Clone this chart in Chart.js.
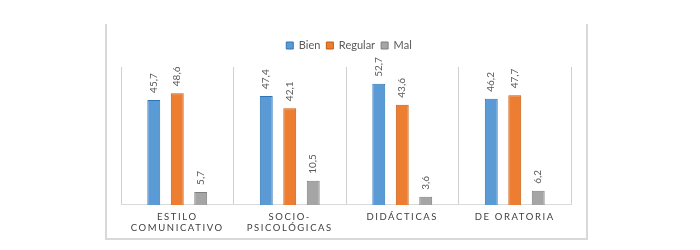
<!DOCTYPE html>
<html>
<head>
<meta charset="utf-8">
<script src="https://cdn.jsdelivr.net/npm/chart.js@4"></script>
<style>
  html, body { margin: 0; background: #fff; }
  #frame {
    position: absolute; left: 105px; top: 24px; width: 479px; height: 214px;
    border: solid #d9d9d9; border-width: 0 2px 2px 2px;
  }
  canvas { display: block; }
</style>
</head>
<body>
<div id="frame"><canvas id="chart" width="479" height="216"></canvas></div>
<script>
const categories = [["ESTILO", "COMUNICATIVO"], ["SOCIO-", "PSICOLÓGICAS"], ["DIDÁCTICAS"], ["DE ORATORIA"]];
const bien = [45.7, 47.4, 52.7, 46.2];
const regular = [48.6, 42.1, 43.6, 47.7];
const mal = [5.7, 10.5, 3.6, 6.2];

const labelFont = "Lato";

// rotated value labels, comma decimals like the original
const valueLabels = {
  id: "valueLabels",
  afterDatasetsDraw(chart) {
    const ctx = chart.ctx;
    chart.data.datasets.forEach((ds, i) => {
      chart.getDatasetMeta(i).data.forEach((bar, j) => {
        ctx.save();
        ctx.translate(bar.x, bar.y - 7);
        ctx.rotate(-Math.PI / 2);
        ctx.font = "10px " + labelFont;
        ctx.fillStyle = "#595959";
        ctx.textAlign = "left";
        ctx.textBaseline = "middle";
        ctx.fillText(ds.data[j].toFixed(1).replace(".", ","), 0, 0);
        ctx.restore();
      });
    });
    // x tick labels are on a later layer, so this only spaces them
    ctx.letterSpacing = "1.6px";
  },
  afterDraw(chart) {
    chart.ctx.letterSpacing = "0px";
  },
};

// more room under the legend, and legend sits a bit right of centre
const legendTweak = {
  id: "legendTweak",
  beforeInit(chart) {
    const fit = chart.legend.fit;
    chart.legend.fit = function () {
      fit.call(this);
      this.height += 6;
    };
  },
  afterLayout(chart) {
    chart.legend.left += 3;
    chart.legend.right += 3;
  },
};

new Chart(document.getElementById("chart"), {
  type: "bar",
  data: {
    labels: categories,
    datasets: [
      { label: "Bien", data: bien, backgroundColor: "#5B9BD5", borderColor: "#2E75B6", borderWidth: 1 },
      { label: "Regular", data: regular, backgroundColor: "#ED7D31", borderColor: "#C55A11", borderWidth: 1 },
      { label: "Mal", data: mal, backgroundColor: "#A5A5A5", borderColor: "#7F7F7F", borderWidth: 1 },
    ],
  },
  options: {
    responsive: false,
    animation: false,
    categoryPercentage: 0.626,
    barPercentage: 0.55,
    layout: { padding: { left: 14, right: 15, top: 10, bottom: 0 } },
    plugins: {
      tooltip: { enabled: false },
      legend: {
        position: "top",
        labels: {
          boxWidth: 7,
          boxHeight: 7,
          padding: 6,
          color: "#595959",
          font: { family: labelFont, size: 11 },
        },
      },
    },
    scales: {
      x: {
        grid: { color: "#d0d0d0", drawTicks: false, offset: true },
        border: { color: "#d9d9d9" },
        ticks: {
          z: 1,
          color: "#404040",
          padding: 6.5,
          maxRotation: 0,
          autoSkip: false,
          font: { family: labelFont, size: 9.5, lineHeight: 1.158 },
        },
      },
      y: { display: false, min: 0, max: 60 },
    },
  },
  plugins: [valueLabels, legendTweak],
});
</script>
</body>
</html>
